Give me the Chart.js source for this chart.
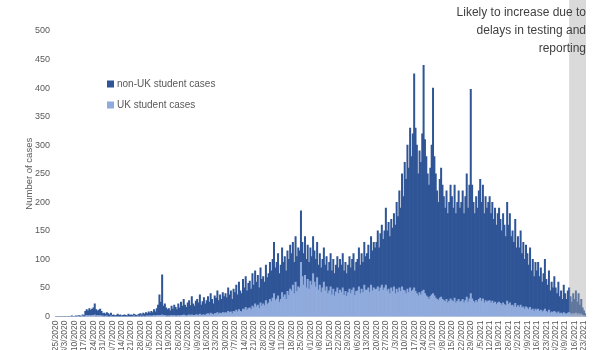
<!DOCTYPE html>
<html>
<head>
<meta charset="utf-8">
<script src="https://cdn.jsdelivr.net/npm/chart.js@4.4.0/dist/chart.umd.min.js"></script>
<style>
  html, body { margin: 0; padding: 0; overflow: hidden; background: #fff; }
  #wrap { width: 600px; height: 367px; position: relative; }
</style>
</head>
<body>
<div id="wrap"><canvas id="chart"></canvas></div>
<script>
// Daily student cases, first day 2/25/2020, one row per week
const firstDay = new Date(2020, 1, 25);

const nonUkCases = [
  0,0,0,0,0,0,0,
  0,0,0,0,0,1,0,
  0,1,0,1,1,0,2,
  2,8,10,9,12,10,11,
  13,19,11,8,10,11,8,
  4,6,3,6,5,3,5,
  2,3,1,2,4,2,3,
  1,2,3,2,1,4,2,
  3,2,3,3,2,2,4,
  4,3,5,4,6,4,7,
  5,8,6,10,7,12,18,
  36,23,70,16,20,14,11,
  13,9,16,12,18,15,11,
  20,14,23,16,27,18,15,
  22,25,17,32,20,16,24,
  27,22,34,18,23,30,20,
  24,30,22,34,26,19,31,
  27,38,24,32,25,35,29,
  33,27,41,31,37,25,39,
  34,44,30,48,36,32,52,
  38,54,34,44,47,36,57,
  40,58,43,52,36,61,47,
  48,41,62,47,51,65,54,
  68,90,57,64,74,50,60,
  78,61,67,50,71,63,77,
  65,75,55,80,61,68,65,
  90,60,55,68,50,60,47,
  58,50,65,55,48,62,44,
  55,43,50,60,45,53,40,
  50,58,42,52,39,47,55,
  45,54,48,60,43,51,40,
  48,57,45,54,60,43,51,
  55,68,50,62,53,75,59,
  64,75,58,85,70,80,73,
  82,98,76,95,105,89,100,
  135,105,117,100,120,111,128,
  120,152,133,170,146,198,164,
  225,200,252,218,280,236,274,
  375,286,260,214,248,232,276,
  394,270,244,216,200,225,262,
  360,244,218,190,172,208,226,
  200,182,164,190,156,173,199,
  182,164,198,156,173,190,165,
  173,190,156,182,216,165,199,
  358,199,173,156,182,165,190,
  208,173,199,156,182,165,173,
  182,156,173,147,165,139,156,
  165,147,130,156,139,121,173,
  139,156,121,130,113,147,104,
  121,104,130,95,113,87,108,
  95,78,104,69,87,61,82,
  69,82,61,74,52,65,87,
  56,48,69,39,52,43,61,
  43,35,52,30,39,26,48,
  35,26,39,43,30,22,35,
  26,39,22,35,17,26,13,
  9,4
];

const ukCases = [
  0,0,0,0,0,0,0,
  0,0,0,0,0,0,0,
  0,0,0,1,0,0,1,
  0,1,2,1,2,1,2,
  2,3,1,2,1,2,1,
  1,0,1,1,0,0,1,
  0,0,0,0,0,0,0,
  0,0,0,0,0,0,0,
  0,0,1,0,0,1,0,
  1,0,1,0,1,1,1,
  1,1,1,2,1,2,2,
  2,2,3,2,2,1,1,
  1,1,2,1,2,1,1,
  2,1,2,2,3,2,1,
  2,3,2,3,2,2,3,
  3,2,4,2,3,3,2,
  4,5,3,6,4,3,5,
  5,7,4,6,5,7,6,
  7,6,9,7,8,5,9,
  8,11,8,12,9,8,13,
  12,16,11,14,15,12,18,
  15,22,17,20,14,24,18,
  22,19,28,21,24,30,26,
  32,40,28,31,36,25,30,
  42,34,38,30,44,37,48,
  45,55,40,60,44,52,50,
  95,70,55,72,50,65,48,
  62,55,75,60,52,68,46,
  55,42,50,60,45,52,40,
  45,52,38,48,36,43,50,
  40,46,42,50,37,44,35,
  42,48,40,46,50,37,44,
  45,52,40,48,42,55,46,
  46,50,42,55,45,50,47,
  48,52,44,50,55,46,50,
  55,45,48,40,50,44,52,
  40,48,42,50,44,52,46,
  45,40,48,42,50,44,46,
  50,44,40,36,42,38,44,
  46,40,36,34,30,35,38,
  40,36,32,30,28,32,34,
  30,28,26,30,24,27,31,
  28,26,32,24,27,30,25,
  27,30,24,28,34,25,31,
  40,31,27,24,28,25,30,
  32,27,31,24,28,25,27,
  28,24,27,23,25,21,24,
  25,23,20,24,21,19,27,
  21,24,19,20,17,23,16,
  19,16,20,15,17,13,17,
  15,12,16,11,13,9,13,
  11,13,9,11,8,10,13,
  9,7,11,6,8,7,9,
  7,5,8,5,6,4,7,
  5,4,6,7,5,3,5,
  4,6,3,5,3,4,2,
  1,1
];

// Days whose counts are still incomplete
const lagStart = '3/12/2021';
const lagNote = ['Likely to increase due to', 'delays in testing and', 'reporting'];

const dayLabels = nonUkCases.map((_, i) => {
  const d = new Date(firstDay);
  d.setDate(d.getDate() + i);
  return (d.getMonth() + 1) + '/' + d.getDate() + '/' + d.getFullYear();
});

const DARK = '#2F5597';
const LIGHT = '#8FAADC';
const TEXT = '#595959';
const FONT = "'Liberation Sans', Arial, sans-serif";

// Shaded reporting-lag band, drawn over the bars
const lagBand = {
  id: 'lagBand',
  afterDatasetsDraw(chart) {
    const { ctx, chartArea, scales } = chart;
    const x0 = scales.x.getPixelForValue(dayLabels.indexOf(lagStart));
    ctx.save();
    ctx.fillStyle = 'rgba(166,166,166,0.42)';
    ctx.fillRect(x0, 0, chartArea.right - x0, chartArea.bottom);
    ctx.fillStyle = '#404040';
    ctx.font = '12px ' + FONT;
    ctx.textAlign = 'right';
    ctx.textBaseline = 'middle';
    lagNote.forEach((t, i) => ctx.fillText(t, chartArea.right, 13 + i * 18));
    ctx.restore();
  }
};

// Legend inside the plot, top left
const innerLegend = {
  id: 'innerLegend',
  afterDraw(chart) {
    const { ctx, chartArea } = chart;
    const items = [chart.data.datasets[1], chart.data.datasets[0]];
    ctx.save();
    ctx.font = '10px ' + FONT;
    ctx.textBaseline = 'middle';
    items.forEach((ds, i) => {
      const y = chartArea.top + 53 + i * 21;
      const x = chartArea.left + 52;
      ctx.fillStyle = ds.backgroundColor;
      ctx.fillRect(x, y - 3.5, 7, 7);
      ctx.fillStyle = TEXT;
      ctx.fillText(ds.label, x + 10, y);
    });
    ctx.restore();
  }
};

new Chart(document.getElementById('chart'), {
  type: 'bar',
  data: {
    labels: dayLabels,
    datasets: [
      { label: 'UK student cases', data: ukCases, backgroundColor: LIGHT },
      { label: 'non-UK student cases', data: nonUkCases, backgroundColor: DARK }
    ]
  },
  options: {
    responsive: true,
    maintainAspectRatio: false,
    animation: false,
    layout: { padding: { top: 31, right: 14, left: 24, bottom: 0 } },
    datasets: { bar: { barPercentage: 1, categoryPercentage: 1, borderWidth: 0 } },
    plugins: { legend: { display: false }, tooltip: { enabled: false } },
    scales: {
      x: {
        stacked: true,
        grid: { display: false, drawTicks: false },
        border: { color: '#D9D9D9' },
        ticks: {
          autoSkip: false,
          maxRotation: 90,
          minRotation: 90,
          padding: 4,
          color: TEXT,
          font: { family: FONT, size: 8.5 },
          callback: (v, i) => (i % 7 === 0 ? dayLabels[i] : null)
        }
      },
      y: {
        stacked: true,
        min: 0,
        max: 500,
        grid: { display: false, drawTicks: false },
        border: { display: false },
        afterFit: (scale) => { scale.width = 31; },
        ticks: { stepSize: 50, color: TEXT, font: { family: FONT, size: 9 }, padding: 5 },
        title: { display: true, text: 'Number of cases', color: TEXT, font: { family: FONT, size: 9.5 }, padding: { top: 0, bottom: 0 } }
      }
    }
  },
  plugins: [lagBand, innerLegend]
});
</script>
</body>
</html>
